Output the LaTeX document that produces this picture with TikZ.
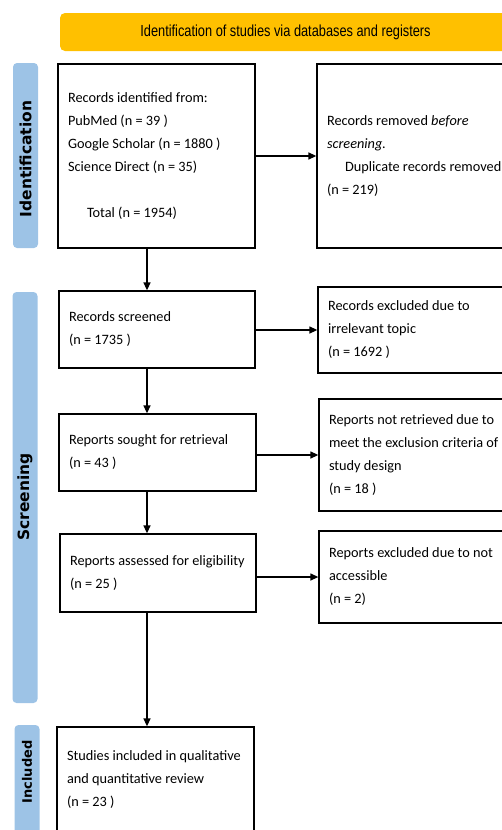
\documentclass[tikz,border=0pt]{standalone}
\usepackage{fontspec}
\setmainfont{Carlito}
\newfontfamily\bannerfont{Liberation Sans}[FakeStretch=0.8]
\newfontfamily\phasefont{DejaVu Sans}
\usetikzlibrary{arrows.meta}

\definecolor{bannergold}{RGB}{255,192,0}
\definecolor{phaseblue}{RGB}{157,195,230}

\newcommand\boxsetup{\fontsize{14.3}{23}\selectfont\hyphenpenalty=10000\relax}

\tikzset{
  box/.style={draw, line width=1.3pt, align=flush left, inner xsep=10pt, inner ysep=0pt,
    font=\boxsetup},
  phase/.style={fill=phaseblue, rounded corners=4pt, minimum width=25pt},
  phaselabel/.style={rotate=90, font=\phasefont\bfseries\fontsize{14}{16}\selectfont},
  arr/.style={-{Triangle[length=8pt,width=7pt]}, line width=1.3pt}
}

\begin{document}
\begin{tikzpicture}[x=1pt,y=-1pt]
\useasboundingbox (0,0) rectangle (501,830);

% banner
\node[fill=bannergold, rounded corners=5pt, minimum width=451pt, minimum height=38pt,
  font=\bannerfont\fontsize{16}{18}\selectfont] (banner) at (285.5,32)
  {Identification of studies via databases and registers};

% phase bars
\node[phase, minimum height=185pt] (idbar) at (25.5,155.5) {};
\node[phaselabel, font=\phasefont\bfseries\fontsize{15.5}{16}\selectfont] (idlab) at (25.5,159) {Identification};
\node[phase, minimum height=411pt] (scbar) at (25,497.5) {};
\node[phaselabel, font=\phasefont\bfseries\fontsize{15.5}{16}\selectfont] (sclab) at (25,497) {Screening};
\node[phase, minimum height=120pt] (inbar) at (27,785) {};
\node[phaselabel, font=\phasefont\bfseries\fontsize{13}{16}\selectfont] (inlab) at (27,772) {Included};

% left column
\node[box, text width=177pt, minimum height=184pt] (ident) at (156.5,156)
  {Records identified from:\\PubMed (n = 39 )\\Google Scholar (n = 1880 )\\Science Direct (n = 35)\\[23pt]\hspace*{19pt}Total (n = 1954)};
\node[box, text width=176pt, minimum height=77pt] (screened) at (157,329.5)
  {Records screened\\(n = 1735 )};
\node[box, text width=177pt, minimum height=77pt] (sought) at (157.5,452.5)
  {Reports sought for retrieval\\(n = 43 )};
\node[box, text width=176pt, minimum height=78pt] (assessed) at (158,573)
  {Reports~assessed~for~eligibility\\(n = 25 )};
\node[box, text width=177pt, minimum height=106pt] (included) at (155.5,780)
  {Studies~included~in~qualitative\\and quantitative review\\(n = 23 )};

% right column
\node[box, text width=188pt, minimum height=184pt] (removed) at (421,156)
  {Records removed \textit{before}\\\textit{screening.}\\\hspace*{18pt}Duplicate records removed\\(n = 219)};
\node[box, text width=187pt, minimum height=86pt] (irrel) at (421.5,330)
  {Records excluded due to\\irrelevant topic\\(n = 1692 )};
\node[box, text width=186pt, minimum height=112pt] (notret) at (422,455)
  {Reports not retrieved due to\\meet~the~exclusion~criteria~of\\study design\\(n = 18 )};
\node[box, text width=186pt, minimum height=92pt] (notacc) at (422,577)
  {Reports excluded due to not\\accessible\\(n = 2)};

% arrows
\draw[arr] (ident.east |- removed.west) -- (removed.west);
\draw[arr] (screened.east |- irrel.west) -- (irrel.west);
\draw[arr] (sought.east |- notret.west) -- (notret.west);
\draw[arr] (assessed.east |- notacc.west) -- (notacc.west);
\draw[arr] ([xshift=-9.5pt]ident.south) -- ([xshift=-9.5pt]ident.south |- screened.north);
\draw[arr] ([xshift=-10pt]screened.south) -- ([xshift=-10pt]screened.south |- sought.north);
\draw[arr] ([xshift=-10.5pt]sought.south) -- ([xshift=-10.5pt]sought.south |- assessed.north);
\draw[arr] ([xshift=-11pt]assessed.south) -- ([xshift=-11pt]assessed.south |- included.north);
\end{tikzpicture}
\end{document}
